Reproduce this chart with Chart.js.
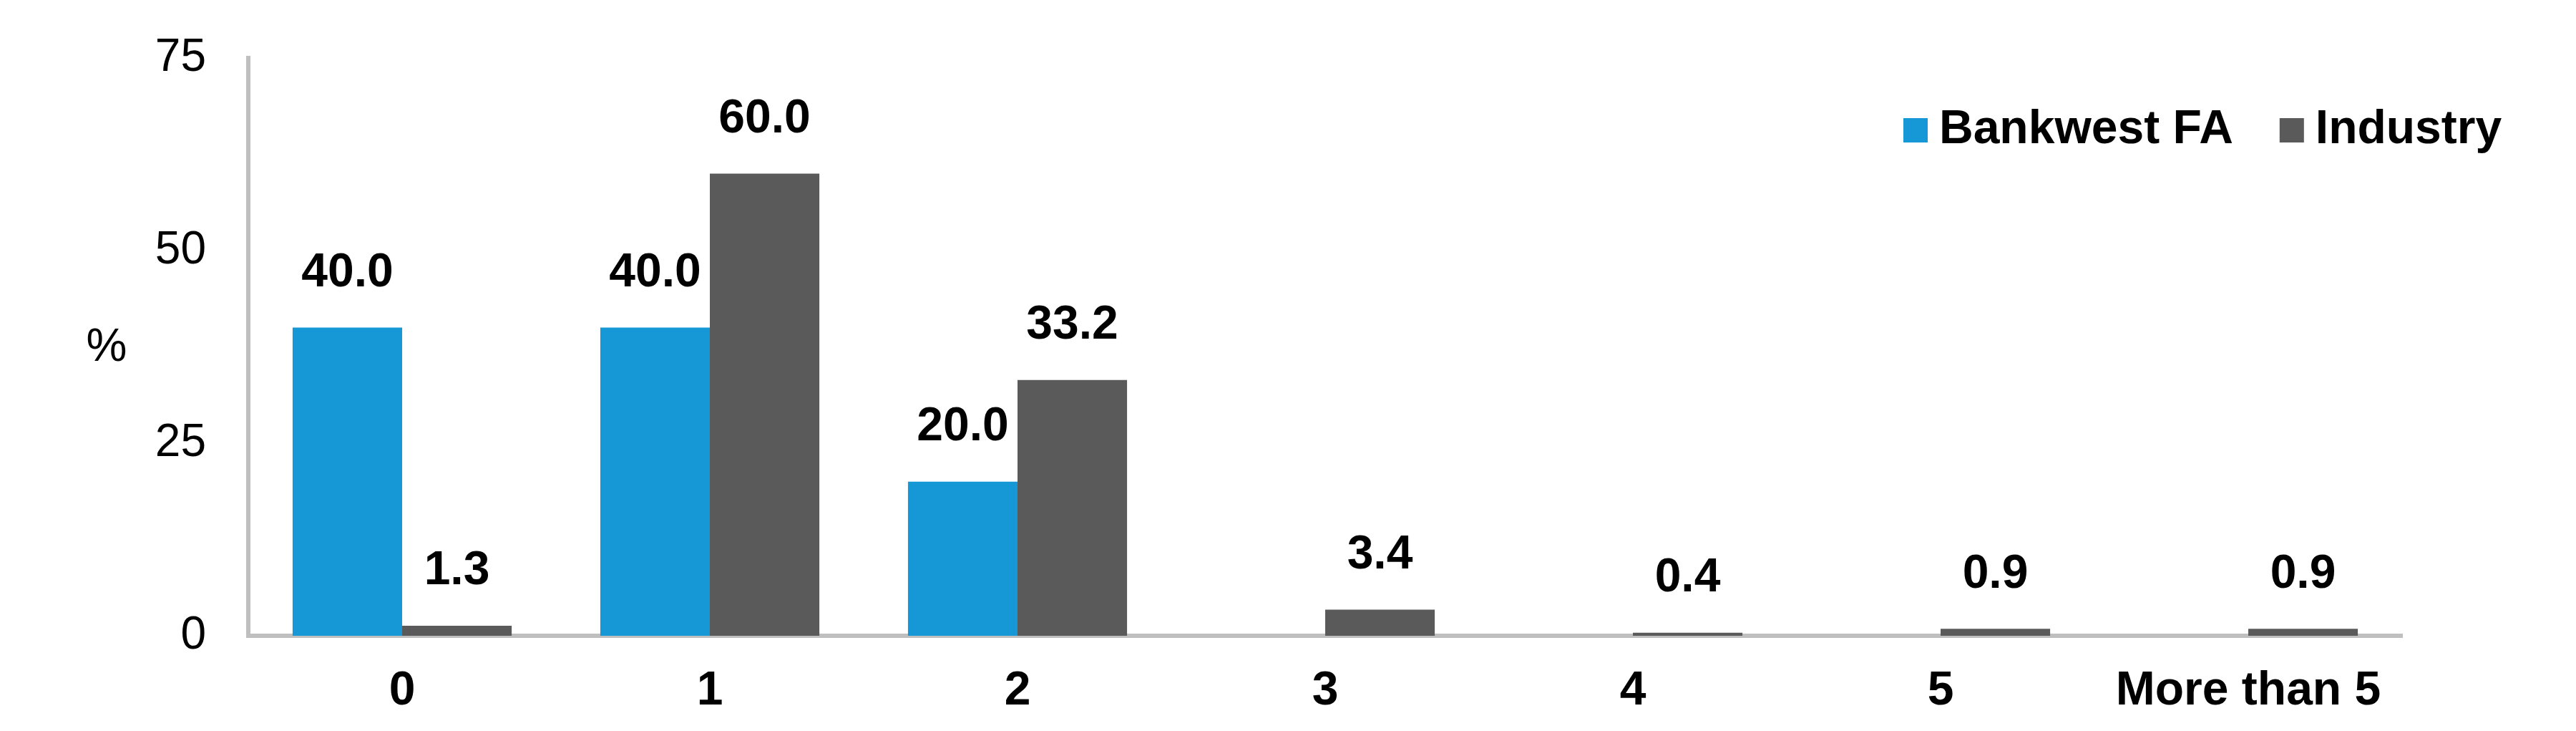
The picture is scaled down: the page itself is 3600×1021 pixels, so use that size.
<!DOCTYPE html>
<html>
<head>
<meta charset="utf-8">
<title>Bankwest FA vs Industry</title>
<script src="https://cdn.jsdelivr.net/npm/chart.js@4.4.1/dist/chart.umd.min.js"></script>
<style>
  html, body { margin: 0; padding: 0; background: #fff; }
  #wrap { position: relative; width: 3600px; height: 1021px; }
</style>
</head>
<body>
<div id="wrap"><canvas id="chart"></canvas></div>
<script>
const FONT = '"Liberation Sans", Arial, sans-serif';
const BLUE = '#1698d6';
const GREY = '#5a5a5a';
const AXIS = '#bfbfbf';

const categories = ['0', '1', '2', '3', '4', '5', 'More than 5'];
const bankwest = [40.0, 40.0, 20.0, null, null, null, null];
const industry = [1.3, 60.0, 33.2, 3.4, 0.4, 0.9, 0.9];
const yTicks = [0, 25, 50, 75];

// value labels above each bar
const barLabels = {
  id: 'barLabels',
  afterDatasetsDraw(chart) {
    const ctx = chart.ctx;
    ctx.save();
    ctx.font = `bold 66px ${FONT}`;
    ctx.fillStyle = '#000';
    ctx.textAlign = 'center';
    ctx.textBaseline = 'middle';
    chart.data.datasets.forEach((ds, i) => {
      chart.getDatasetMeta(i).data.forEach((bar, j) => {
        const v = ds.data[j];
        if (v === null || v === undefined) return;
        ctx.fillText(v.toFixed(1), bar.x, bar.y - 76);
      });
    });
    ctx.restore();
  },
};

// "%" unit label and the legend inside the plot
const extras = {
  id: 'extras',
  afterDraw(chart) {
    const ctx = chart.ctx;
    ctx.save();
    ctx.fillStyle = '#000';
    ctx.font = `64px ${FONT}`;
    ctx.textAlign = 'center';
    ctx.textBaseline = 'middle';
    ctx.fillText('%', 149, 486);

    ctx.font = `bold 66px ${FONT}`;
    ctx.textAlign = 'left';
    let x = 2660;
    const y = 182;
    chart.data.datasets.forEach((ds) => {
      ctx.fillStyle = ds.backgroundColor;
      ctx.fillRect(x, y - 17, 34, 34);
      ctx.fillStyle = '#000';
      ctx.fillText(ds.label, x + 50, y);
      x += 50 + ctx.measureText(ds.label).width + 65;
    });
    ctx.restore();
  },
};

new Chart(document.getElementById('chart'), {
  type: 'bar',
  data: {
    labels: categories,
    datasets: [
      { label: 'Bankwest FA', data: bankwest, backgroundColor: BLUE },
      { label: 'Industry', data: industry, backgroundColor: GREY },
    ],
  },
  options: {
    responsive: true,
    maintainAspectRatio: false,
    animation: false,
    events: [],
    datasets: { bar: { categoryPercentage: 0.712, barPercentage: 1 } },
    layout: { padding: { top: 81, right: 243, left: 0, bottom: 0 } },
    scales: {
      x: {
        grid: { display: false, drawTicks: false },
        border: { color: AXIS, width: 6 },
        ticks: { color: '#000', padding: 38, font: { family: FONT, size: 66, weight: 'bold' } },
        afterFit: (s) => { s.height = 133; s.paddingLeft = 0; s.paddingRight = 0; },
      },
      y: {
        min: 0,
        max: 75,
        afterBuildTicks: (s) => { s.ticks = yTicks.map((v) => ({ value: v })); },
        grid: { display: false, drawTicks: false },
        border: { color: AXIS, width: 6 },
        ticks: { color: '#000', padding: 59, font: { family: FONT, size: 64 } },
        afterFit: (s) => { s.width = 347; s.paddingTop = 0; s.paddingBottom = 0; },
      },
    },
    plugins: {
      legend: { display: false },
      tooltip: { enabled: false },
    },
  },
  plugins: [barLabels, extras],
});
</script>
</body>
</html>
